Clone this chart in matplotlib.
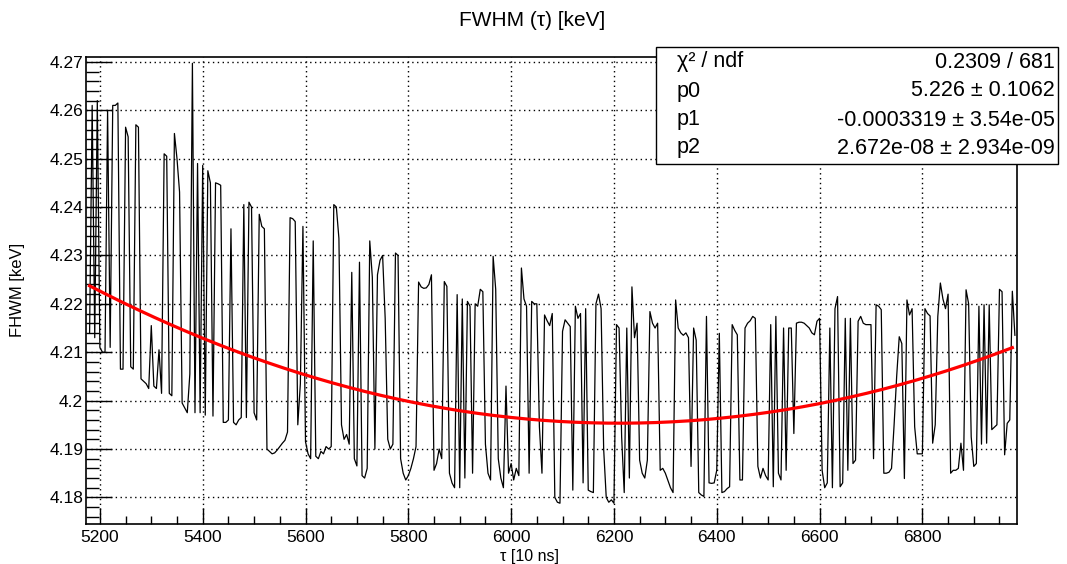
import numpy as np
import matplotlib.pyplot as plt
from matplotlib.ticker import MultipleLocator
from matplotlib.patches import Rectangle

plt.rcParams['font.family'] = ['Liberation Sans', 'DejaVu Sans']

# FWHM vs tau, every 5 units of tau
tau_start = 5180
tau_step = 5
fwhm = [
    # 5180
    4.214, 4.261, 4.213, 4.262, 4.211, 4.210, 4.210, 4.260, 4.211, 4.261,
    4.261, 4.2615, 4.2065, 4.2065, 4.2565, 4.2545, 4.207, 4.2065, 4.257, 4.2565,
    # 5280
    4.2045, 4.204, 4.2035, 4.2025, 4.2155, 4.203, 4.2025, 4.2105, 4.2015, 4.251,
    4.2505, 4.2015, 4.201, 4.2552, 4.250, 4.2431, 4.1995, 4.1985, 4.1975, 4.2055,
    # 5380
    4.2697, 4.1975, 4.249, 4.1975, 4.2486, 4.197, 4.2475, 4.245, 4.1968, 4.245,
    4.2448, 4.2445, 4.1955, 4.1955, 4.196, 4.2355, 4.1955, 4.195, 4.196, 4.1965,
    # 5480
    4.2405, 4.1965, 4.241, 4.240, 4.1975, 4.196, 4.2385, 4.236, 4.2355, 4.190,
    4.1895, 4.189, 4.1892, 4.1898, 4.1905, 4.1912, 4.1918, 4.1935, 4.2378, 4.2376,
    # 5580
    4.237, 4.195, 4.2035, 4.236, 4.1915, 4.189, 4.188, 4.233, 4.1885, 4.188,
    4.1895, 4.189, 4.1905, 4.190, 4.1905, 4.2405, 4.240, 4.2335, 4.195, 4.192,
    # 5680
    4.193, 4.191, 4.2265, 4.188, 4.1865, 4.2286, 4.1845, 4.184, 4.186, 4.233,
    4.2255, 4.190, 4.226, 4.229, 4.230, 4.217, 4.192, 4.190, 4.191, 4.2305,
    # 5780
    4.230, 4.188, 4.185, 4.1836, 4.1845, 4.186, 4.188, 4.1905, 4.2245, 4.2235,
    4.2232, 4.2233, 4.224, 4.226, 4.1856, 4.187, 4.190, 4.188, 4.2246, 4.2236,
    # 5880
    4.185, 4.183, 4.182, 4.2219, 4.182, 4.221, 4.184, 4.2205, 4.2195, 4.185,
    4.220, 4.2195, 4.223, 4.2225, 4.191, 4.185, 4.1836, 4.2298, 4.223, 4.188,
    # 5980
    4.184, 4.182, 4.203, 4.185, 4.187, 4.1836, 4.186, 4.1845, 4.2274, 4.221,
    4.2195, 4.185, 4.2205, 4.220, 4.220, 4.1946, 4.185, 4.2177, 4.2165, 4.2155,
    # 6080
    4.218, 4.180, 4.179, 4.1788, 4.2143, 4.2167, 4.216, 4.2153, 4.1815, 4.2195,
    4.217, 4.218, 4.183, 4.219, 4.1815, 4.1812, 4.181, 4.220, 4.222, 4.219,
    # 6180
    4.190, 4.180, 4.179, 4.1795, 4.1788, 4.2157, 4.215, 4.1925, 4.181, 4.215,
    4.184, 4.2235, 4.213, 4.216, 4.1877, 4.185, 4.184, 4.1877, 4.2184, 4.216,
    # 6280
    4.215, 4.216, 4.1856, 4.186, 4.185, 4.1835, 4.182, 4.181, 4.2208, 4.215,
    4.214, 4.2135, 4.214, 4.213, 4.1864, 4.215, 4.2125, 4.181, 4.1805, 4.1802,
    # 6380
    4.2174, 4.183, 4.1829, 4.183, 4.1856, 4.2139, 4.181, 4.1812, 4.1818, 4.1822,
    4.2157, 4.2145, 4.2136, 4.1836, 4.1836, 4.215, 4.216, 4.2165, 4.2174, 4.217,
    # 6480
    4.1864, 4.184, 4.186, 4.1845, 4.1836, 4.2157, 4.1822, 4.2174, 4.185, 4.1836,
    4.215, 4.1856, 4.215, 4.215, 4.1932, 4.216, 4.2162, 4.2162, 4.216, 4.2155,
    # 6580
    4.215, 4.214, 4.2136, 4.2164, 4.217, 4.1856, 4.182, 4.183, 4.215, 4.182,
    4.219, 4.2215, 4.1822, 4.183, 4.217, 4.1856, 4.217, 4.187, 4.1877, 4.2164,
    # 6680
    4.2174, 4.216, 4.2157, 4.2157, 4.2157, 4.188, 4.2198, 4.2195, 4.2188, 4.185,
    4.185, 4.1852, 4.186, 4.195, 4.205, 4.2132, 4.2118, 4.1839, 4.2208, 4.2177,
    # 6780
    4.219, 4.1946, 4.189, 4.189, 4.189, 4.219, 4.218, 4.2175, 4.1912, 4.195,
    4.2174, 4.2243, 4.221, 4.219, 4.222, 4.185, 4.1856, 4.1856, 4.186, 4.1912,
    # 6880
    4.1856, 4.2229, 4.220, 4.1925, 4.1864, 4.187, 4.2195, 4.191, 4.2198, 4.1912,
    4.2198, 4.194, 4.1945, 4.195, 4.223, 4.2225, 4.1888, 4.1953, 4.196, 4.2226,
    4.2135,
]
tau = tau_start + tau_step * np.arange(len(fwhm))

# pol2 fit parameters from the stat box
p0, p1, p2 = 5.226, -0.0003319, 2.672e-08
stat_names = ['χ² / ndf', 'p0', 'p1', 'p2']
stat_values = ['0.2309 / 681', '5.226 ± 0.1062',
               '-0.0003319 ± 3.54e-05', '2.672e-08 ± 2.934e-09']

fig = plt.figure(figsize=(10.67, 5.64), dpi=100)
ax = fig.add_axes([0.0806, 0.0709, 0.8725, 0.828])

ax.plot(tau, fwhm, color='black', lw=0.9)
xs = np.linspace(tau[0], tau[-1] - 5, 400)
ax.plot(xs, p0 + p1 * xs + p2 * xs ** 2, color='#ff0000', lw=2.3)

ax.set_xlim(5173, 6984)
ax.set_ylim(4.1745, 4.2710)
ax.xaxis.set_major_locator(MultipleLocator(200))
ax.xaxis.set_minor_locator(MultipleLocator(50))
ax.yaxis.set_major_locator(MultipleLocator(0.01))
ax.yaxis.set_minor_locator(MultipleLocator(0.002))
ax.yaxis.set_major_formatter(plt.FuncFormatter(lambda v, p: ('%.2f' % v).rstrip('0').rstrip('.')))
ax.grid(True, which='major', color='black', lw=1.0, linestyle=(0, (1, 2.5)))
ax.tick_params(axis='x', which='major', direction='in', length=11.5, width=1, labelsize=12.5, pad=4)
ax.tick_params(axis='x', which='minor', direction='in', length=5.8, width=1)
ax.tick_params(axis='y', which='major', direction='in', length=18.7, width=1, labelsize=12.5, pad=2)
ax.tick_params(axis='y', which='minor', direction='in', length=9.4, width=1)
for s in ax.spines.values():
    s.set_linewidth(1.2)

fig.text(532 / 1067, 1 - 21 / 564, 'FWHM (τ) [keV]', ha='center', va='center', fontsize=15)
fig.text(530 / 1067, 1 - 556 / 564, 'τ [10 ns]', ha='center', va='center', fontsize=11.5)
fig.text(18 / 1067, 1 - 290 / 564, 'FHWM [keV]', ha='center', va='center', rotation=90, fontsize=12)

# stat box
fig.patches.append(Rectangle((656 / 1067, 1 - 164 / 564), 402 / 1067, 117 / 564,
                             transform=fig.transFigure, facecolor='white',
                             edgecolor='black', lw=1, zorder=5))
rows_y = [62, 91, 120, 148]
for name, val, yy in zip(stat_names, stat_values, rows_y):
    fig.text(677 / 1067, 1 - yy / 564, name, ha='left', va='center', fontsize=15.5, zorder=6)
    fig.text(1055 / 1067, 1 - yy / 564, val, ha='right', va='center', fontsize=15.5, zorder=6)

fig.savefig('out.png', dpi=100)
